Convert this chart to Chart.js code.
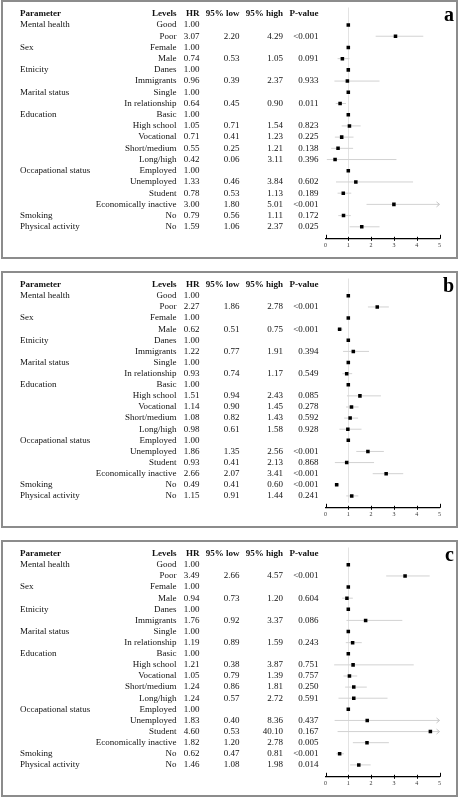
<!DOCTYPE html>
<html>
<head>
<meta charset="utf-8">
<title>Forest plots</title>
<script src="https://cdn.jsdelivr.net/npm/chart.js@4.4.1/dist/chart.umd.min.js"></script>
<style>
    body { margin: 0; background: #fff; }
    .panel {
        position: absolute;
        left: 1px;
        width: 457px;
        border: 2px solid #8c8c8c;
        box-sizing: border-box;
        background: #fff;
    }
    .panel canvas { display: block; }
</style>
</head>
<body>
<div class="panel" style="top:0;height:259px"><canvas id="chartA" width="453" height="255"></canvas></div>
<div class="panel" style="top:271px;height:257px"><canvas id="chartB" width="453" height="253"></canvas></div>
<div class="panel" style="top:540px;height:257px"><canvas id="chartC" width="453" height="253"></canvas></div>

<script>
// ===================== DATA =====================
const headers = ['Parameter', 'Levels', 'HR', '95% low', '95% high', 'P-value'];
const parameters = ['Mental health', '', 'Sex', '', 'Etnicity', '', 'Marital status', '', 'Education', '', '', '', '',
    'Occapational status', '', '', '', 'Smoking', 'Physical activity'];
const levels = ['Good', 'Poor', 'Female', 'Male', 'Danes', 'Immigrants', 'Single', 'In relationship', 'Basic',
    'High school', 'Vocational', 'Short/medium', 'Long/high', 'Employed', 'Unemployed', 'Student',
    'Economically inactive', 'No', 'No'];
const xTicks = [0, 1, 2, 3, 4, 5];

// panel a
const hrA   = [1.00, 3.07, 1.00, 0.74, 1.00, 0.96, 1.00, 0.64, 1.00, 1.05, 0.71, 0.55, 0.42, 1.00, 1.33, 0.78, 3.00, 0.79, 1.59];
const lowA  = [null, 2.20, null, 0.53, null, 0.39, null, 0.45, null, 0.71, 0.41, 0.25, 0.06, null, 0.46, 0.53, 1.80, 0.56, 1.06];
const highA = [null, 4.29, null, 1.05, null, 2.37, null, 0.90, null, 1.54, 1.23, 1.21, 3.11, null, 3.84, 1.13, 5.01, 1.11, 2.37];
const pA    = ['', '<0.001', '', '0.091', '', '0.933', '', '0.011', '', '0.823', '0.225', '0.138', '0.396', '', '0.602', '0.189', '<0.001', '0.172', '0.025'];

// panel b
const hrB   = [1.00, 2.27, 1.00, 0.62, 1.00, 1.22, 1.00, 0.93, 1.00, 1.51, 1.14, 1.08, 0.98, 1.00, 1.86, 0.93, 2.66, 0.49, 1.15];
const lowB  = [null, 1.86, null, 0.51, null, 0.77, null, 0.74, null, 0.94, 0.90, 0.82, 0.61, null, 1.35, 0.41, 2.07, 0.41, 0.91];
const highB = [null, 2.78, null, 0.75, null, 1.91, null, 1.17, null, 2.43, 1.45, 1.43, 1.58, null, 2.56, 2.13, 3.41, 0.60, 1.44];
const pB    = ['', '<0.001', '', '<0.001', '', '0.394', '', '0.549', '', '0.085', '0.278', '0.592', '0.928', '', '<0.001', '0.868', '<0.001', '<0.001', '0.241'];

// panel c
const hrC   = [1.00, 3.49, 1.00, 0.94, 1.00, 1.76, 1.00, 1.19, 1.00, 1.21, 1.05, 1.24, 1.24, 1.00, 1.83, 4.60, 1.82, 0.62, 1.46];
const lowC  = [null, 2.66, null, 0.73, null, 0.92, null, 0.89, null, 0.38, 0.79, 0.86, 0.57, null, 0.40, 0.53, 1.20, 0.47, 1.08];
const highC = [null, 4.57, null, 1.20, null, 3.37, null, 1.59, null, 3.87, 1.39, 1.81, 2.72, null, 8.36, 40.10, 2.78, 0.81, 1.98];
const pC    = ['', '<0.001', '', '0.604', '', '0.086', '', '0.243', '', '0.751', '0.757', '0.250', '0.591', '', '0.437', '0.167', '0.005', '<0.001', '0.014'];

// ===================== STYLE =====================
const FONT = '"Liberation Serif", "Times New Roman", serif';
const TEXT_COLOR = '#111';
const CI_COLOR = '#d2d2d2';
// column anchors in canvas px (param is left-aligned, the rest right-aligned)
const COL_X = { param: 17, level: 173.5, hr: 196.5, low: 236.5, high: 280, p: 315.5 };

// ===================== TABLE + DECORATION PLUGIN =====================
function makeTablePlugin(panel) {
    return {
        id: 'forestTable',
        beforeDatasetsDraw(chart) {
            // reference line at HR = 1
            const { ctx, chartArea, scales } = chart;
            const px = Math.round(scales.x.getPixelForValue(1)) + 0.5;
            ctx.save();
            ctx.strokeStyle = '#e3e3e3';
            ctx.lineWidth = 1;
            ctx.beginPath();
            ctx.moveTo(px, chartArea.top + 3);
            ctx.lineTo(px, chartArea.bottom - 5);
            ctx.stroke();
            ctx.restore();
        },
        afterDraw(chart) {
            const { ctx, chartArea, scales } = chart;
            const x = scales.x, y = scales.y;
            ctx.save();
            ctx.fillStyle = TEXT_COLOR;
            ctx.textBaseline = 'middle';

            // header row
            const hy = y.getPixelForValue(0);
            ctx.font = 'bold 9px ' + FONT;
            ctx.textAlign = 'left';
            ctx.fillText(headers[0], COL_X.param, hy);
            ctx.textAlign = 'right';
            ctx.fillText(headers[1], COL_X.level, hy);
            ctx.fillText(headers[2], COL_X.hr, hy);
            ctx.fillText(headers[3], COL_X.low, hy);
            ctx.fillText(headers[4], COL_X.high, hy);
            ctx.fillText(headers[5], COL_X.p, hy);

            // data rows
            ctx.font = '9px ' + FONT;
            levels.forEach((lvl, i) => {
                const ry = y.getPixelForValue(i + 1);
                ctx.textAlign = 'left';
                if (parameters[i]) ctx.fillText(parameters[i], COL_X.param, ry);
                ctx.textAlign = 'right';
                ctx.fillText(lvl, COL_X.level, ry);
                ctx.fillText(panel.hr[i].toFixed(2), COL_X.hr, ry);
                if (panel.low[i] != null) {
                    ctx.fillText(panel.low[i].toFixed(2), COL_X.low, ry);
                    ctx.fillText(panel.high[i].toFixed(2), COL_X.high, ry);
                }
                if (panel.p[i]) ctx.fillText(panel.p[i], COL_X.p, ry);
            });

            // arrows where the upper limit runs past the axis
            const xMax = x.max;
            ctx.strokeStyle = '#c4c4c4';
            ctx.lineWidth = 1;
            panel.high.forEach((hi, i) => {
                if (hi == null || hi <= xMax) return;
                const ax = x.getPixelForValue(xMax);
                const ay = y.getPixelForValue(i + 1);
                ctx.beginPath();
                ctx.moveTo(ax - 3, ay - 2.5);
                ctx.lineTo(ax, ay);
                ctx.lineTo(ax - 3, ay + 2.5);
                ctx.stroke();
            });

            // tick marks on the x axis
            ctx.strokeStyle = '#000';
            ctx.lineWidth = 1;
            const by = chartArea.bottom;
            xTicks.forEach((t, k) => {
                const tx = Math.round(x.getPixelForValue(t)) + 0.5;
                const end = k === 0 || k === xTicks.length - 1;
                ctx.beginPath();
                ctx.moveTo(tx, end ? by - 4 : by - 2);
                ctx.lineTo(tx, end ? by : by + 2);
                ctx.stroke();
            });

            // panel letter
            ctx.font = 'bold 20px ' + FONT;
            ctx.textAlign = 'right';
            ctx.textBaseline = 'alphabetic';
            ctx.fillStyle = '#000';
            ctx.fillText(panel.letter, 451, 19);
            ctx.restore();
        }
    };
}

// ===================== FOREST PLOT =====================
function renderForest(canvasId, panel) {
    const ctx = document.getElementById(canvasId).getContext('2d');

    const points = panel.hr.map((v, i) => ({ x: v, y: i + 1 }));
    // CI segments separated by null points so the line breaks between rows
    const ciSegments = [];
    panel.low.forEach((lo, i) => {
        if (lo == null) return;
        ciSegments.push({ x: lo, y: i + 1 }, { x: panel.high[i], y: i + 1 }, { x: null, y: null });
    });

    return new Chart(ctx, {
        type: 'scatter',
        data: {
            datasets: [{
                label: 'HR',
                data: points,
                pointStyle: 'rect',
                pointRadius: 2.5,
                pointHoverRadius: 2.5,
                backgroundColor: '#000',
                borderColor: '#000',
                borderWidth: 0
            }, {
                type: 'line',
                label: '95% CI',
                data: ciSegments,
                borderColor: CI_COLOR,
                borderWidth: 1,
                pointRadius: 0,
                spanGaps: false,
                fill: false
            }]
        },
        options: {
            responsive: false,
            animation: false,
            layout: { padding: { left: 322.5, right: 16.5, top: 0, bottom: 5 } },
            plugins: {
                legend: { display: false },
                tooltip: { enabled: false }
            },
            scales: {
                x: {
                    type: 'linear',
                    min: xTicks[0],
                    max: xTicks[xTicks.length - 1],
                    grid: { display: false, drawTicks: false },
                    border: { display: true, color: '#000', width: 1.2 },
                    afterBuildTicks: axis => { axis.ticks = xTicks.map(v => ({ value: v })); },
                    ticks: {
                        padding: 3,
                        color: '#333',
                        font: { family: FONT, size: 6 }
                    }
                },
                y: {
                    type: 'linear',
                    reverse: true,
                    min: -0.83,
                    max: 20.07,
                    display: false
                }
            }
        },
        plugins: [makeTablePlugin(panel)]
    });
}

// ===================== INIT =====================
renderForest('chartA', { letter: 'a', hr: hrA, low: lowA, high: highA, p: pA });
renderForest('chartB', { letter: 'b', hr: hrB, low: lowB, high: highB, p: pB });
renderForest('chartC', { letter: 'c', hr: hrC, low: lowC, high: highC, p: pC });
</script>
</body>
</html>
